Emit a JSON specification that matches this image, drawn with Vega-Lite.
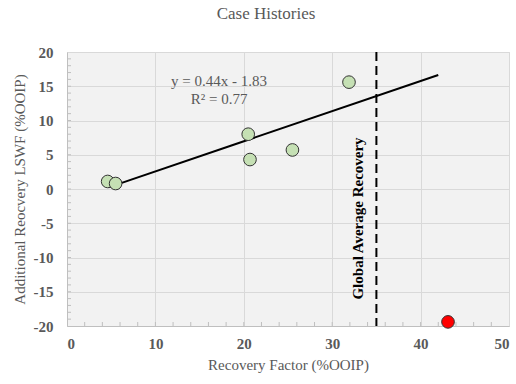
{
  "$schema": "https://vega.github.io/schema/vega-lite/v6.json",
  "autosize": {"type": "none"},
  "padding": {"left": 67, "top": 52, "right": 7, "bottom": 58},
  "width": 442,
  "height": 274,
  "background": "white",
  "config": {
    "font": "Liberation Serif",
    "view": {"stroke": "#d9d9d9", "fill": "#f2f2f2"},
    "axis": {
      "grid": true, "gridColor": "#d9d9d9", "gridWidth": 1,
      "ticks": false, "domain": true, "domainColor": "#bfbfbf",
      "labelFont": "Liberation Serif", "labelFontSize": 15, "labelFontWeight": "bold",
      "labelColor": "#595959", "labelOverlap": false,
      "titleFont": "Liberation Serif", "titleFontSize": 15, "titleFontWeight": "normal",
      "titleColor": "#595959", "titlePadding": 6
    },
    "axisX": {"labelPadding": 10},
    "axisY": {"labelPadding": 14}
  },
  "title": {
    "text": "Case Histories",
    "font": "Liberation Serif",
    "fontSize": 17,
    "fontWeight": "normal",
    "color": "#595959",
    "anchor": "middle",
    "dx": -22,
    "offset": 22
  },
  "datasets": {
    "pts": [
      {"rf": 4.6, "add": 1.1, "grp": "case"},
      {"rf": 5.5, "add": 0.8, "grp": "case"},
      {"rf": 20.5, "add": 8.0, "grp": "case"},
      {"rf": 20.7, "add": 4.3, "grp": "case"},
      {"rf": 25.5, "add": 5.7, "grp": "case"},
      {"rf": 31.9, "add": 15.6, "grp": "case"},
      {"rf": 43.1, "add": -19.4, "grp": "outlier"}
    ],
    "trend": [
      {"rf": 4.7, "add": 0.24},
      {"rf": 42.0, "add": 16.65}
    ],
    "vline": [
      {"rf": 35, "y1": 20, "y2": -20}
    ],
    "labels": [
      {"rf": 17.2, "add": 15.8, "txt": "y = 0.44x - 1.83"},
      {"rf": 17.2, "add": 13.1, "txt": "R² = 0.77"}
    ],
    "vlabel": [
      {"rf": 32.9, "add": -4.3, "txt": "Global Average Recovery"}
    ],
    "minorx": [
      {"rf": 2, "add": -20}, {"rf": 4, "add": -20}, {"rf": 6, "add": -20}, {"rf": 8, "add": -20}, {"rf": 10, "add": -20},
      {"rf": 12, "add": -20}, {"rf": 14, "add": -20}, {"rf": 16, "add": -20}, {"rf": 18, "add": -20}, {"rf": 20, "add": -20},
      {"rf": 22, "add": -20}, {"rf": 24, "add": -20}, {"rf": 26, "add": -20}, {"rf": 28, "add": -20}, {"rf": 30, "add": -20},
      {"rf": 32, "add": -20}, {"rf": 34, "add": -20}, {"rf": 36, "add": -20}, {"rf": 38, "add": -20}, {"rf": 40, "add": -20},
      {"rf": 42, "add": -20}, {"rf": 44, "add": -20}, {"rf": 46, "add": -20}, {"rf": 48, "add": -20}
    ],
    "minory": [
      {"rf": 0, "add": -19}, {"rf": 0, "add": -18}, {"rf": 0, "add": -17}, {"rf": 0, "add": -16}, {"rf": 0, "add": -15},
      {"rf": 0, "add": -14}, {"rf": 0, "add": -13}, {"rf": 0, "add": -12}, {"rf": 0, "add": -11}, {"rf": 0, "add": -10},
      {"rf": 0, "add": -9}, {"rf": 0, "add": -8}, {"rf": 0, "add": -7}, {"rf": 0, "add": -6}, {"rf": 0, "add": -5},
      {"rf": 0, "add": -4}, {"rf": 0, "add": -3}, {"rf": 0, "add": -2}, {"rf": 0, "add": -1}, {"rf": 0, "add": 0},
      {"rf": 0, "add": 1}, {"rf": 0, "add": 2}, {"rf": 0, "add": 3}, {"rf": 0, "add": 4}, {"rf": 0, "add": 5},
      {"rf": 0, "add": 6}, {"rf": 0, "add": 7}, {"rf": 0, "add": 8}, {"rf": 0, "add": 9}, {"rf": 0, "add": 10},
      {"rf": 0, "add": 11}, {"rf": 0, "add": 12}, {"rf": 0, "add": 13}, {"rf": 0, "add": 14}, {"rf": 0, "add": 15},
      {"rf": 0, "add": 16}, {"rf": 0, "add": 17}, {"rf": 0, "add": 18}, {"rf": 0, "add": 19}
    ]
  },
  "layer": [
    {
      "data": {"name": "vline"},
      "mark": {"type": "rule", "color": "black", "strokeWidth": 2, "strokeDash": [9, 5]},
      "encoding": {
        "x": {
          "field": "rf", "type": "quantitative",
          "scale": {"domain": [0, 50], "nice": false, "zero": false},
          "axis": {"values": [0, 10, 20, 30, 40, 50], "labelExpr": "toString(datum.value)", "title": "Recovery Factor (%OOIP)"}
        },
        "y": {
          "field": "y1", "type": "quantitative",
          "scale": {"domain": [-20, 20], "nice": false, "zero": false},
          "axis": {"values": [-20, -15, -10, -5, 0, 5, 10, 15, 20], "labelExpr": "toString(datum.value)", "title": "Additional  Reocvery LSWF (%OOIP)"}
        },
        "y2": {"field": "y2"}
      }
    },
    {
      "data": {"name": "minorx"},
      "mark": {"type": "rule", "color": "#bfbfbf", "strokeWidth": 1, "y2Offset": -4},
      "encoding": {
        "x": {"field": "rf", "type": "quantitative",
          "axis": {"values": [0, 10, 20, 30, 40, 50], "labelExpr": "toString(datum.value)", "title": "Recovery Factor (%OOIP)"}},
        "y": {"field": "add", "type": "quantitative",
          "axis": {"values": [-20, -15, -10, -5, 0, 5, 10, 15, 20], "labelExpr": "toString(datum.value)", "title": "Additional  Reocvery LSWF (%OOIP)"}},
        "y2": {"field": "add"}
      }
    },
    {
      "data": {"name": "minory"},
      "mark": {"type": "rule", "color": "#bfbfbf", "strokeWidth": 1, "x2Offset": 4},
      "encoding": {
        "x": {"field": "rf", "type": "quantitative",
          "axis": {"values": [0, 10, 20, 30, 40, 50], "labelExpr": "toString(datum.value)", "title": "Recovery Factor (%OOIP)"}},
        "y": {"field": "add", "type": "quantitative",
          "axis": {"values": [-20, -15, -10, -5, 0, 5, 10, 15, 20], "labelExpr": "toString(datum.value)", "title": "Additional  Reocvery LSWF (%OOIP)"}},
        "x2": {"field": "rf"}
      }
    },
    {
      "data": {"name": "trend"},
      "mark": {"type": "line", "color": "black", "strokeWidth": 2},
      "encoding": {
        "x": {"field": "rf", "type": "quantitative",
          "axis": {"values": [0, 10, 20, 30, 40, 50], "labelExpr": "toString(datum.value)", "title": "Recovery Factor (%OOIP)"}},
        "y": {"field": "add", "type": "quantitative",
          "axis": {"values": [-20, -15, -10, -5, 0, 5, 10, 15, 20], "labelExpr": "toString(datum.value)", "title": "Additional  Reocvery LSWF (%OOIP)"}}
      }
    },
    {
      "data": {"name": "pts"},
      "mark": {"type": "point", "shape": "circle", "filled": true, "size": 160, "stroke": "#333333", "strokeWidth": 1, "opacity": 1},
      "encoding": {
        "x": {"field": "rf", "type": "quantitative",
          "axis": {"values": [0, 10, 20, 30, 40, 50], "labelExpr": "toString(datum.value)", "title": "Recovery Factor (%OOIP)"}},
        "y": {"field": "add", "type": "quantitative",
          "axis": {"values": [-20, -15, -10, -5, 0, 5, 10, 15, 20], "labelExpr": "toString(datum.value)", "title": "Additional  Reocvery LSWF (%OOIP)"}},
        "fill": {
          "field": "grp", "type": "nominal",
          "scale": {"domain": ["case", "outlier"], "range": ["#c5e0b4", "#ff0000"]},
          "legend": null
        }
      }
    },
    {
      "data": {"name": "labels"},
      "mark": {"type": "text", "font": "Liberation Serif", "fontSize": 15, "color": "#595959", "align": "center", "baseline": "middle"},
      "encoding": {
        "x": {"field": "rf", "type": "quantitative",
          "axis": {"values": [0, 10, 20, 30, 40, 50], "labelExpr": "toString(datum.value)", "title": "Recovery Factor (%OOIP)"}},
        "y": {"field": "add", "type": "quantitative",
          "axis": {"values": [-20, -15, -10, -5, 0, 5, 10, 15, 20], "labelExpr": "toString(datum.value)", "title": "Additional  Reocvery LSWF (%OOIP)"}},
        "text": {"field": "txt"}
      }
    },
    {
      "data": {"name": "vlabel"},
      "mark": {"type": "text", "font": "Liberation Serif", "fontSize": 15, "fontWeight": "bold", "color": "black", "angle": 270, "align": "center", "baseline": "middle"},
      "encoding": {
        "x": {"field": "rf", "type": "quantitative",
          "axis": {"values": [0, 10, 20, 30, 40, 50], "labelExpr": "toString(datum.value)", "title": "Recovery Factor (%OOIP)"}},
        "y": {"field": "add", "type": "quantitative",
          "axis": {"values": [-20, -15, -10, -5, 0, 5, 10, 15, 20], "labelExpr": "toString(datum.value)", "title": "Additional  Reocvery LSWF (%OOIP)"}},
        "text": {"field": "txt"}
      }
    }
  ]
}
